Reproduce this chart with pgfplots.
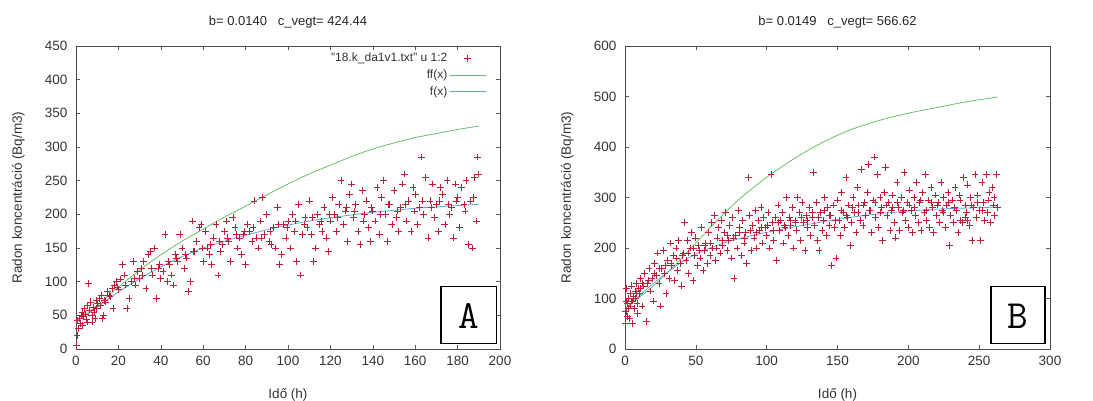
\documentclass[border=0pt]{standalone}
\usepackage{fontspec}
\setmainfont{Liberation Sans}
\usepackage{pgfplots}
\usepackage{pgfplotstable}
\pgfplotsset{compat=1.18}

\definecolor{ptred}{RGB}{190,30,55}
\definecolor{gpgreen}{RGB}{105,190,105}
\definecolor{gpblue}{RGB}{95,165,215}

\pgfplotstableread{
x y
0.2 5
0.5 20
0.8 42
1.2 30
1.6 45
2.0 38
2.4 50
2.8 55
3.2 35
3.6 48
4.0 60
4.5 52
5.0 44
5.5 65
6.0 97
6.5 58
7.0 70
7.5 40
8.0 62
8.5 55
9.0 45
9.5 72
10.0 68
11 75
12 80
12.5 45
13 50
14 70
15 85
16 78
17 90
17.5 60
18 95
19 100
20 88
21 104
22 125
23 110
24 60
25 75
26 100
27 130
28 95
29 115
30 105
31 120
32 130
33 90
34 140
35 145
36 110
37 150
38 75
39 120
40 105
41 115
42 170
43 100
44 125
45 110
46 95
47 140
48 130
49 170
50 150
51 120
52 135
53 85
54 100
55 190
56 145
57 160
58 180
59 185
60 130
61 175
62 150
63 140
64 125
65 165
66 185
67 110
68 145
69 155
70 175
71 190
72 160
73 130
74 195
75 180
76 150
77 165
78 140
79 170
80 125
81 185
82 175
83 160
84 220
85 165
86 150
87 190
88 225
89 170
90 200
91 160
92 155
93 180
94 150
95 210
96 125
97 140
98 185
99 165
100 190
101 150
102 200
103 175
104 130
105 215
106 110
107 170
108 195
109 180
110 220
111 170
112 130
113 150
114 200
115 185
116 175
117 210
118 165
119 145
120 190
121 225
122 200
123 175
124 215
125 250
126 185
127 205
128 160
129 230
130 245
131 195
132 215
133 175
134 155
135 235
136 200
137 220
138 180
139 160
140 205
141 190
142 240
143 170
144 225
145 250
146 200
147 160
148 215
149 185
150 235
151 195
152 175
153 210
154 245
155 260
156 190
157 220
158 175
159 240
160 230
161 185
162 210
163 285
164 200
165 255
166 165
167 220
168 245
169 195
170 215
171 175
172 240
173 230
174 185
175 250
176 200
177 210
178 165
179 245
180 225
181 180
182 240
183 215
184 250
185 155
186 220
187 150
188 255
189 190
189.5 285
190 260
5.5 40
7.5 50
9.5 60
11.5 65
13.5 72
15.5 80
19.5 92
23.5 95
27.5 105
31.5 110
35.5 120
39.5 125
43.5 130
47.5 135
51.5 140
55.5 145
59.5 150
63.5 155
67.5 160
71.5 165
75.5 170
79.5 175
83.5 180
87.5 165
91.5 175
95.5 185
99.5 180
103.5 190
107.5 185
111.5 195
115.5 190
119.5 200
123.5 195
127.5 210
131.5 205
135.5 190
139.5 210
143.5 200
147.5 215
151.5 205
155.5 215
159.5 205
163.5 220
167.5 210
171.5 220
175.5 215
179.5 220
183.5 205
187.5 225
}\dataA

\pgfplotstableread{
x y
0.3 50
0.6 75
1.0 95
1.3 120
1.7 65
2.0 90
2.5 100
3.0 60
3.5 110
4.0 85
4.5 125
5.0 95
5.5 50
6.0 105
6.5 80
7.0 115
7.5 100
8.0 130
8.5 90
9.0 70
9.5 120
10 110
11 140
12 85
13 125
14 150
15 55
16 130
17 160
18 115
19 140
20 95
21 170
22 145
23 190
24 130
25 85
26 160
27 195
28 150
29 110
30 175
31 140
32 210
33 165
34 185
35 135
36 200
37 155
38 215
39 170
40 125
41 190
42 250
43 175
44 215
45 150
46 200
47 230
48 135
49 185
50 220
51 165
52 205
53 180
54 240
55 155
56 195
57 210
58 170
59 230
60 185
61 250
62 200
63 265
64 175
65 220
66 240
67 190
68 255
69 205
70 230
71 270
72 195
73 215
74 245
75 180
76 260
77 140
78 225
79 200
80 275
81 240
82 185
83 255
84 210
85 230
86 170
87 340
88 265
89 195
90 245
91 220
92 275
93 200
94 255
95 235
96 280
97 210
98 260
99 240
100 225
101 270
102 200
103 345
104 250
105 215
106 260
107 175
108 285
109 235
110 255
111 270
112 210
113 240
114 300
115 225
116 260
117 245
118 280
119 200
120 255
121 235
122 300
123 270
124 215
125 290
126 250
127 195
128 265
129 240
130 280
131 225
132 260
133 350
134 245
135 290
136 215
137 195
138 270
139 235
140 255
141 300
142 225
143 280
144 245
145 265
146 165
147 285
148 240
149 180
150 295
151 255
152 225
153 310
154 270
155 240
156 340
157 260
158 285
159 205
160 250
161 300
162 270
163 230
164 320
165 285
166 255
167 355
168 245
169 290
170 265
171 310
172 365
173 275
174 230
175 295
176 380
177 260
178 345
179 240
180 300
181 280
182 215
183 310
184 360
185 265
186 290
187 235
188 275
189 305
190 250
191 220
192 330
193 280
194 235
195 300
196 270
197 350
198 255
199 290
200 240
201 315
202 275
203 230
204 300
205 265
206 330
207 250
208 290
209 235
210 310
211 270
212 345
213 255
214 295
215 240
216 320
217 280
218 230
219 305
220 265
221 290
222 250
223 330
224 275
225 300
226 240
227 285
228 310
229 205
230 265
231 295
232 250
233 320
234 275
235 230
236 305
237 255
238 250
239 340
240 285
241 270
242 325
243 245
244 300
245 215
246 280
247 345
248 260
249 305
250 275
251 215
252 330
253 290
254 255
255 345
256 270
257 310
258 250
259 320
260 285
261 265
262 345
263 280
2.2 80
4.2 95
6.2 100
8.2 110
10.5 120
12.5 130
16.5 135
20.5 150
24.5 160
28.5 165
32.5 170
36.5 180
40.5 185
44.5 190
48.5 200
52.5 195
56.5 205
60.5 210
64.5 200
68.5 215
72.5 225
76.5 220
80.5 230
84.5 220
88.5 235
92.5 230
96.5 240
100.5 245
104.5 235
108.5 250
112.5 245
116.5 255
120.5 250
124.5 260
128.5 255
132.5 270
136.5 260
140.5 275
144.5 265
148.5 255
152.5 275
156.5 265
160.5 280
164.5 270
168.5 285
172.5 275
176.5 290
180.5 270
184.5 285
188.5 280
192.5 290
196.5 275
200.5 285
204.5 280
208.5 295
212.5 275
216.5 290
220.5 285
224.5 270
228.5 290
232.5 280
236.5 295
240.5 260
241.5 255
244.5 285
248.5 290
252.5 275
256.5 295
260.5 300
}\dataB

\pgfplotsset{
  gp/.style={
    scale only axis,
    width=424pt, height=303pt,
    tick align=inside,
    major tick length=4pt,
    tick style={black!65, line width=0.5pt},
    axis line style={black!70, line width=0.6pt},
    /pgf/number format/assume math mode=true,
    ticklabel style={font=\fontsize{13.5}{15}\selectfont, text=black!80},
    xticklabel style={yshift=-4pt},
    yticklabel style={xshift=-5pt},
    label style={font=\fontsize{13.5}{15}\selectfont, text=black!80},
    title style={font=\fontsize{13}{15}\selectfont, text=black!85, at={(axis description cs:0.5,1.06)}, anchor=center},
    xlabel style={at={(axis description cs:0.5,-0.152)}, anchor=center},
    ylabel style={at={(axis description cs:-0.136,0.5)}, anchor=center},
    xlabel={Idő (h)},
    ylabel={Radon koncentráció (Bq/m3)},
    ymin=0,
    scaled ticks=false,
    clip=false,
  },
  scat/.style={only marks, mark=+, mark size=3.4pt, ptred, line width=0.7pt},
  scatleg/.style={legend image code/.code={\draw[mark repeat=2,mark phase=2,##1] plot coordinates {(0pt,0pt)(18pt,0pt)(36pt,0pt)};}},
  ffline/.style={gpgreen, line width=0.8pt, no marks, smooth,
    legend image code/.code={\draw[gpgreen, line width=0.9pt] (0pt,0pt) -- (36pt,0pt);}},
  fline/.style={gpblue, line width=0.8pt, no marks, smooth,
    legend image code/.code={\draw[gpblue, line width=0.9pt] (0pt,0pt) -- (36pt,0pt);}},
}

\begin{document}
\begin{tikzpicture}
\useasboundingbox (0pt,0pt) rectangle (1093pt,401pt);

\begin{axis}[gp, at={(76pt,52pt)}, anchor=south west,
  xmin=0, xmax=200, ymax=450,
  xtick={0,20,...,200}, ytick={0,50,...,450},
  title={b= 0.0140 \ \ c\_vegt= 424.44},
  legend style={draw=none, fill=none, at={(0.975,0.99)}, anchor=north east,
    font=\fontsize{12}{14}\selectfont, text=black!80, row sep=2.5pt,
    cells={anchor=east}},
  legend plot pos=right,
]
\addplot[scat, scatleg] table[x=x,y=y] {\dataA};
\addlegendentry{"18.k\_da1v1.txt" u 1:2}
\addplot[ffline] coordinates {(0,40) (10,65) (20,92) (30,117) (40,140) (50,160) (60,178) (70,196) (80,212) (90,229) (100,245) (110,260) (120,273) (130,286) (140,297) (150,306) (160,314) (170,320) (180,326) (190,331)};
\addlegendentry{ff(x)}
\addplot[fline] coordinates {(0,40) (10,62) (20,85) (30,104) (40,122) (50,137) (60,150) (70,160) (80,169) (90,177) (100,184) (110,190) (120,195) (130,199) (140,203) (150,206) (160,209) (170,211) (180,213) (190,215)};
\addlegendentry{f(x)}
\draw[black, line width=1.2pt, fill=white] (rel axis cs:0.861,0.017) rectangle (rel axis cs:0.991,0.205);
\node[font=\ttfamily\fontsize{40}{42}\selectfont, inner sep=0pt] at (rel axis cs:0.926,0.108) {A};
\end{axis}

\begin{axis}[gp, at={(625pt,52pt)}, anchor=south west, width=425pt,
  xmin=0, xmax=300, ymax=600,
  xtick={0,50,...,300}, ytick={0,100,...,600},
  title={b= 0.0149 \ \ c\_vegt= 566.62},
]
\addplot[scat] table[x=x,y=y] {\dataB};
\addplot[ffline] coordinates {(0,80) (20,125) (40,180) (60,240) (80,295) (100,340) (120,378) (140,410) (160,435) (180,453) (200,467) (220,478) (240,489) (263,499)};
\addplot[fline] coordinates {(0,78) (10,105) (20,130) (30,152) (40,172) (50,188) (60,200) (70,210) (80,218) (90,225) (100,231) (120,242) (140,252) (160,261) (180,268) (200,273) (220,277) (240,279) (263,281)};
\draw[black, line width=1.2pt, fill=white] (rel axis cs:0.861,0.017) rectangle (rel axis cs:0.988,0.205);
\node[font=\ttfamily\fontsize{40}{42}\selectfont, inner sep=0pt] at (rel axis cs:0.9245,0.108) {B};
\end{axis}
\end{tikzpicture}
\end{document}
